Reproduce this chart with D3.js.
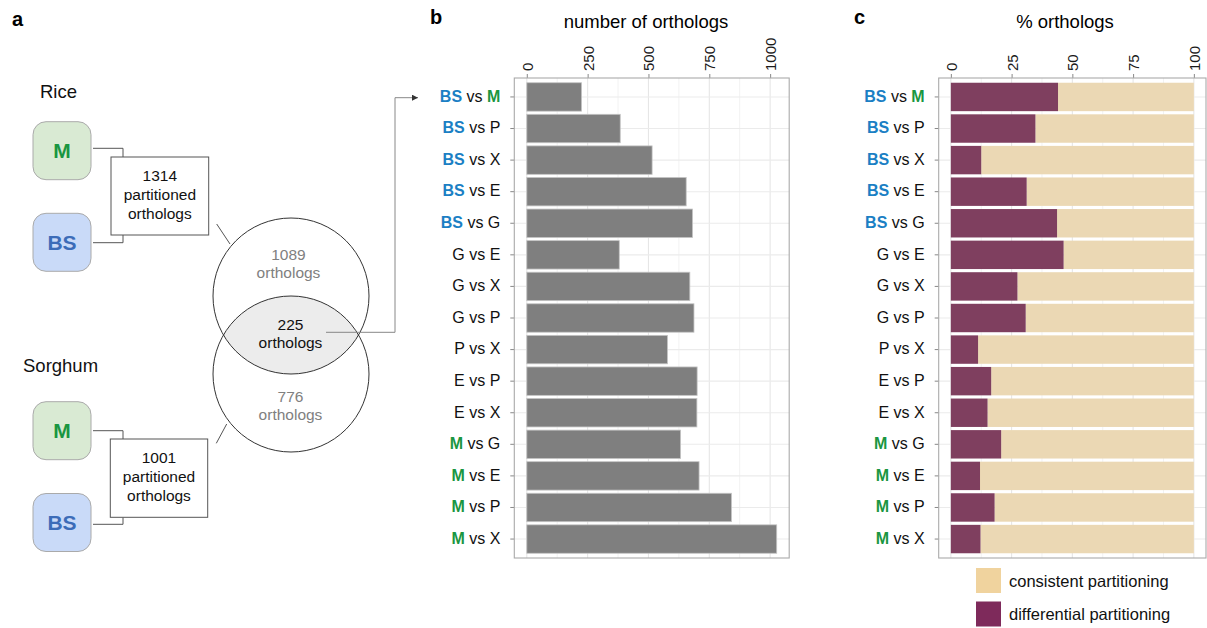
<!DOCTYPE html>
<html><head><meta charset="utf-8">
<script src="https://cdn.jsdelivr.net/npm/d3@7"></script>
<style>body{margin:0;background:#fff} text{font-family:"Liberation Sans",Arial,sans-serif}</style>
</head><body><svg id="chart" width="1207" height="628"></svg>
<script>
// ---------- data ----------
const comparisons = ["BS vs M","BS vs P","BS vs X","BS vs E","BS vs G","G vs E","G vs X","G vs P","P vs X","E vs P","E vs X","M vs G","M vs E","M vs P","M vs X"];
const orthologCounts = [225, 384, 515, 655, 681, 380, 670, 687, 578, 700, 699, 632, 708, 841, 1027];
const differentialPct = [44.1, 34.8, 12.5, 31.2, 43.7, 46.4, 27.4, 30.8, 11.2, 16.6, 15.1, 20.7, 12.0, 18.0, 12.2];
const consistentPct  = [55.9, 65.2, 87.5, 68.8, 56.3, 53.6, 72.6, 69.2, 88.8, 83.4, 84.9, 79.3, 88.0, 82.0, 87.8];
const countTicks = [0, 250, 500, 750, 1000];
const pctTicks = [0, 25, 50, 75, 100];
const legendLabels = ["consistent partitioning", "differential partitioning"];
const vennRice = {total: 1314, only: 1089};
const vennSorghum = {total: 1001, only: 776};
const vennShared = 225;

// ---------- setup ----------
const svg = d3.select("#chart");
svg.append("rect").attr("width",1207).attr("height",628).attr("fill","#fff");
const FONT = '"Liberation Sans", Arial, sans-serif';
const BLUE = "#1b7fc4", GREEN = "#1a9641";
const PURPLE = "#7f3f5f", BEIGE = "#ebd8b4";

const pTop = 78, pBottom = 558;
const y = d3.scaleBand().domain(comparisons).range([pTop, pBottom]).paddingInner(0.1).paddingOuter(0.15);

function panelLetter(t, x, yy){
  svg.append("text").attr("x",x).attr("y",yy).attr("font-size",20).attr("font-weight","bold").attr("fill","#000").text(t);
}
panelLetter("a", 12, 26); panelLetter("b", 430, 24); panelLetter("c", 854, 24);

function drawPanel(x, ticks, minor, left, title, titleX){
  const g = svg.append("g");
  g.selectAll(".mn").data(minor).join("line")
    .attr("x1",d=>x(d)).attr("x2",d=>x(d)).attr("y1",pTop).attr("y2",pBottom)
    .attr("stroke","#f2f2f2").attr("stroke-width",1);
  g.selectAll(".mj").data(ticks).join("line")
    .attr("x1",d=>x(d)).attr("x2",d=>x(d)).attr("y1",pTop).attr("y2",pBottom)
    .attr("stroke","#e6e6e6").attr("stroke-width",1.1);
  g.selectAll(".hz").data(comparisons).join("line")
    .attr("x1",x.range()[0]).attr("x2",x.range()[1])
    .attr("y1",d=>y(d)+y.bandwidth()/2).attr("y2",d=>y(d)+y.bandwidth()/2)
    .attr("stroke","#ebebeb").attr("stroke-width",1.1);
  const ax = svg.append("g").attr("transform",`translate(0,${pTop})`)
    .call(d3.axisTop(x).tickValues(ticks).tickSize(4).tickPadding(7).tickFormat(d3.format("d")));
  ax.select(".domain").remove();
  ax.selectAll(".tick line").attr("stroke","#888");
  ax.selectAll(".tick text")
    .attr("font-family",FONT).attr("font-size",15).attr("fill","#1a1a1a")
    .attr("transform","rotate(-90)").attr("text-anchor","start")
    .attr("x",7).attr("y",0).attr("dy","0.36em");
  const ay = svg.append("g").attr("transform",`translate(${left},0)`)
    .call(d3.axisLeft(y).tickSize(4).tickPadding(10));
  ay.select(".domain").remove();
  ay.selectAll(".tick line").attr("stroke","#888");
  ay.selectAll(".tick text").each(function(d){
    const t = d3.select(this).text("").attr("font-family",FONT).attr("font-size",16).attr("fill","#111").attr("dy","0.3em");
    const parts = d.split(" vs ");
    const style = p => p==="BS" ? {c:BLUE,w:"bold"} : p==="M" ? {c:GREEN,w:"bold"} : {c:"#111",w:"normal"};
    const s0 = style(parts[0]), s1 = style(parts[1]);
    t.append("tspan").attr("fill",s0.c).attr("font-weight",s0.w).text(parts[0]);
    t.append("tspan").attr("fill","#111").text(" vs ");
    t.append("tspan").attr("fill",s1.c).attr("font-weight",s1.w).text(parts[1]);
  });
  svg.append("text").attr("x",titleX).attr("y",28).attr("text-anchor","middle")
    .attr("font-size",18.5).attr("fill","#000").text(title);
  return g;
}

// ---------- panel b ----------
const maxCount = d3.max(orthologCounts);
const xb = d3.scaleLinear().domain([-0.05*maxCount, maxCount*1.05]).range([514.3, 789.2]);
const minorB = d3.pairs(countTicks).map(p=>(p[0]+p[1])/2);
const gb = drawPanel(xb, countTicks, minorB, 514.3, "number of orthologs", 646);
gb.selectAll(".bar").data(comparisons).join("rect")
  .attr("x",xb(0)).attr("y",d=>y(d)).attr("height",y.bandwidth())
  .attr("width",(d,i)=>xb(orthologCounts[i])-xb(0))
  .attr("fill","#7f7f7f").attr("stroke","#c4c4c4").attr("stroke-width",0.8);
svg.append("rect").attr("x",514.3).attr("y",pTop).attr("width",789.2-514.3).attr("height",pBottom-pTop)
  .attr("fill","none").attr("stroke","#aaaaaa").attr("stroke-width",1.1);

// ---------- panel c ----------
const xc = d3.scaleLinear().domain([-5,105]).range([938.7,1206]);
const gc = drawPanel(xc, pctTicks, d3.pairs(pctTicks).map(p=>(p[0]+p[1])/2), 938.7, "% orthologs", 1065);
gc.selectAll(".cons").data(comparisons).join("rect")
  .attr("x",(d,i)=>xc(differentialPct[i])).attr("y",d=>y(d)).attr("height",y.bandwidth())
  .attr("width",(d,i)=>xc(differentialPct[i]+consistentPct[i])-xc(differentialPct[i]))
  .attr("fill",BEIGE);
gc.selectAll(".diff").data(comparisons).join("rect")
  .attr("x",xc(0)).attr("y",d=>y(d)).attr("height",y.bandwidth())
  .attr("width",(d,i)=>xc(differentialPct[i])-xc(0))
  .attr("fill",PURPLE);
svg.append("rect").attr("x",938.7).attr("y",pTop).attr("width",1206-938.7).attr("height",pBottom-pTop)
  .attr("fill","none").attr("stroke","#aaaaaa").attr("stroke-width",1.1);

// legend
const legColors = ["#f0d39e", "#7e2a5b"];
legendLabels.forEach((l,i)=>{
  svg.append("rect").attr("x",976).attr("y",568+i*33.5).attr("width",25).attr("height",25).attr("fill",legColors[i]);
  svg.append("text").attr("x",1009).attr("y",586.5+i*33).attr("font-size",16.5).attr("fill","#111").text(l);
});

// ---------- panel a ----------
const ga = svg.append("g");
function species(name, ty, tyM, tyBS, connY, box, counts){
  ga.append("text").attr("x",name==="Rice"?40:23).attr("y",ty).attr("font-size",18.5).attr("fill","#111").text(name);
  [[tyM,"M","#d9ead3",GREEN],[tyBS,"BS","#c9daf8","#3c6cb8"]].forEach(([yy,t,f,c])=>{
    ga.append("rect").attr("x",33).attr("y",yy).attr("width",58).attr("height",58).attr("rx",13)
      .attr("fill",f).attr("stroke","#aaaaaa").attr("stroke-width",1);
    ga.append("text").attr("x",62).attr("y",yy+29).attr("dy","0.36em").attr("text-anchor","middle")
      .attr("font-size",21).attr("font-weight","bold").attr("fill",c).text(t);
  });
  ga.append("path").attr("d",`M93,${connY[0]}H123V${box.y}`).attr("fill","none").attr("stroke","#555");
  ga.append("path").attr("d",`M93,${connY[1]}H123V${box.y+box.h}`).attr("fill","none").attr("stroke","#555");
  ga.append("rect").attr("x",box.x).attr("y",box.y).attr("width",box.w).attr("height",box.h)
    .attr("fill","#fff").attr("stroke","#555").attr("stroke-width",1);
  [String(counts),"partitioned","orthologs"].forEach((s,i)=>{
    ga.append("text").attr("x",box.x+box.w/2).attr("y",box.y+23.5+i*19.2).attr("text-anchor","middle")
      .attr("font-size",15.5).attr("fill","#111").text(s);
  });
}
species("Rice", 98, 121.7, 213.3, [148.3, 242.7], {x:111,y:157,w:97.7,h:78}, vennRice.total);
species("Sorghum", 371.5, 401.7, 493.5, [430.7, 524.3], {x:110.3,y:439,w:97.4,h:78.3}, vennSorghum.total);

// venn
const cx = 291, r = 78, c1y = 296, c2y = 374;
const defs = svg.append("defs");
defs.append("clipPath").attr("id","clipTop").append("circle").attr("cx",cx).attr("cy",c1y).attr("r",r);
defs.append("marker").attr("id","arr").attr("viewBox","0 0 10 10").attr("refX",10).attr("refY",5)
  .attr("markerWidth",6).attr("markerHeight",6).attr("orient","auto")
  .append("path").attr("d","M0,0L10,5L0,10z").attr("fill","#333");
ga.append("circle").attr("cx",cx).attr("cy",c2y).attr("r",r).attr("fill","#ececec").attr("clip-path","url(#clipTop)");
ga.append("circle").attr("cx",cx).attr("cy",c1y).attr("r",r).attr("fill","none").attr("stroke","#333").attr("stroke-width",1);
ga.append("circle").attr("cx",cx).attr("cy",c2y).attr("r",r).attr("fill","none").attr("stroke","#333").attr("stroke-width",1);
ga.append("line").attr("x1",216.7).attr("y1",224).attr("x2",230).attr("y2",244).attr("stroke","#555");
ga.append("line").attr("x1",216.3).attr("y1",443.3).attr("x2",226.7).attr("y2",424).attr("stroke","#555");
function vtext(lines, x, y0, color){
  lines.forEach((s,i)=>ga.append("text").attr("x",x).attr("y",y0+i*17.5).attr("text-anchor","middle")
    .attr("font-size",15.5).attr("fill",color).text(s));
}
vtext([String(vennRice.only),"orthologs"], 288.5, 260, "#808080");
vtext([String(vennShared),"orthologs"], 290.5, 330, "#111");
vtext([String(vennSorghum.only),"orthologs"], 290.5, 402, "#808080");
ga.append("path").attr("d","M326,332.3H395V97.7H418").attr("fill","none").attr("stroke","#888").attr("stroke-width",1)
  .attr("marker-end","url(#arr)");
</script></body></html>
